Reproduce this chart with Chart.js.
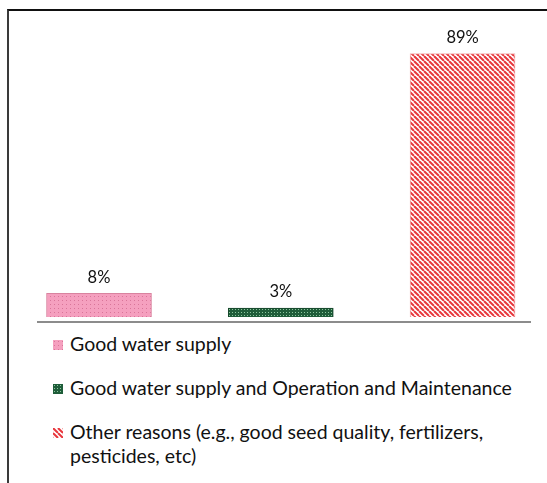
<!DOCTYPE html>
<html>
<head>
<meta charset="utf-8">
<script src="https://cdn.jsdelivr.net/npm/chart.js@4/dist/chart.umd.min.js"></script>
<style>
    body { margin: 0; background: #fff; font-family: Lato, 'Open Sans', sans-serif; }
    #frame { position: absolute; left: 7px; top: 9px; width: 540px; height: 474px; border-top: 2px solid #111; border-left: 2px solid #3a3a3a; }
    #plot { position: absolute; left: 0; top: 0; width: 538px; height: 315px; }
    .legend-item { position: absolute; left: 44px; width: 490px; font-size: 19.5px; line-height: 24px; color: #111; }
    .legend-item canvas { position: absolute; left: 0; top: 8px; }
    .legend-item span { position: absolute; left: 17px; width: 468px; }
</style>
</head>
<body>
<div id="frame">
    <div id="plot"><canvas id="shareChart"></canvas></div>
    <div id="legend"></div>
</div>
<script>
// Reasons for improved yield, share of respondents (%)
const categories = [
    'Good water supply',
    'Good water supply and Operation and Maintenance',
    'Other reasons (e.g., good seed quality, fertilizers, pesticides, etc)'
];
const shares = [8, 3, 89];
const legendTops = [321, 365, 409];

// Fill patterns, one per category
function dotPattern(bg, dot, step) {
    const c = document.createElement('canvas');
    c.width = step; c.height = step;
    const ctx = c.getContext('2d');
    ctx.fillStyle = bg;
    ctx.fillRect(0, 0, step, step);
    ctx.fillStyle = dot;
    ctx.fillRect(1, 1, 1, 1);
    return ctx.createPattern(c, 'repeat');
}

function stripePattern(bg, line, size) {
    const c = document.createElement('canvas');
    c.width = size; c.height = size;
    const ctx = c.getContext('2d');
    ctx.fillStyle = bg;
    ctx.fillRect(0, 0, size, size);
    ctx.strokeStyle = line;
    ctx.lineWidth = 2;
    for (let k = -size; k <= size; k += size) {
        ctx.beginPath();
        ctx.moveTo(k, 0);
        ctx.lineTo(k + size, size);
        ctx.stroke();
    }
    return ctx.createPattern(c, 'repeat');
}

const fills = [
    dotPattern('#f5a0bf', '#d97599', 4),
    dotPattern('#1f5d3a', '#8cc79d', 3),
    stripePattern('#ffffff', '#e8363c', 5)
];
const borders = ['#d9839f', '#17472c', '#f2b0b0'];

// Percent labels above each bar
const valueLabels = {
    id: 'valueLabels',
    afterDatasetsDraw(chart) {
        const ctx = chart.ctx;
        const meta = chart.getDatasetMeta(0);
        ctx.save();
        ctx.font = '16.5px Lato, "Open Sans", sans-serif';
        ctx.fillStyle = '#111';
        ctx.textAlign = 'center';
        ctx.textBaseline = 'middle';
        meta.data.forEach((bar, i) => {
            ctx.fillText(shares[i] + '%', bar.x, bar.y - 16);
        });
        ctx.restore();
    }
};

new Chart(document.getElementById('shareChart'), {
    type: 'bar',
    data: {
        datasets: [{
            label: 'Share',
            data: shares.map((v, i) => ({ x: i, y: v })),
            backgroundColor: fills,
            borderColor: borders,
            borderWidth: 1,
            barThickness: 105
        }]
    },
    options: {
        responsive: true,
        maintainAspectRatio: false,
        animation: false,
        layout: { padding: { left: 29, right: 17, top: 10, bottom: 4 } },
        plugins: { legend: { display: false }, tooltip: { enabled: false } },
        scales: {
            x: {
                type: 'linear',
                offset: false,
                min: -0.3356,
                max: 2.371,
                ticks: { display: false },
                grid: { display: false, drawTicks: false },
                border: { display: true, color: '#8c8c8c', width: 2 }
            },
            y: {
                display: false,
                min: -1.7,
                max: 100
            }
        }
    },
    plugins: [valueLabels]
});

// Legend drawn below the plot
const legendBox = document.getElementById('legend');
categories.forEach((name, i) => {
    const item = document.createElement('div');
    item.className = 'legend-item';
    item.style.top = legendTops[i] + 'px';
    const icon = document.createElement('canvas');
    icon.width = 10; icon.height = 10;
    const ictx = icon.getContext('2d');
    ictx.fillStyle = fills[i];
    ictx.fillRect(0, 0, 10, 10);
    const text = document.createElement('span');
    text.textContent = name;
    item.appendChild(icon);
    item.appendChild(text);
    legendBox.appendChild(item);
});
</script>
</body>
</html>
